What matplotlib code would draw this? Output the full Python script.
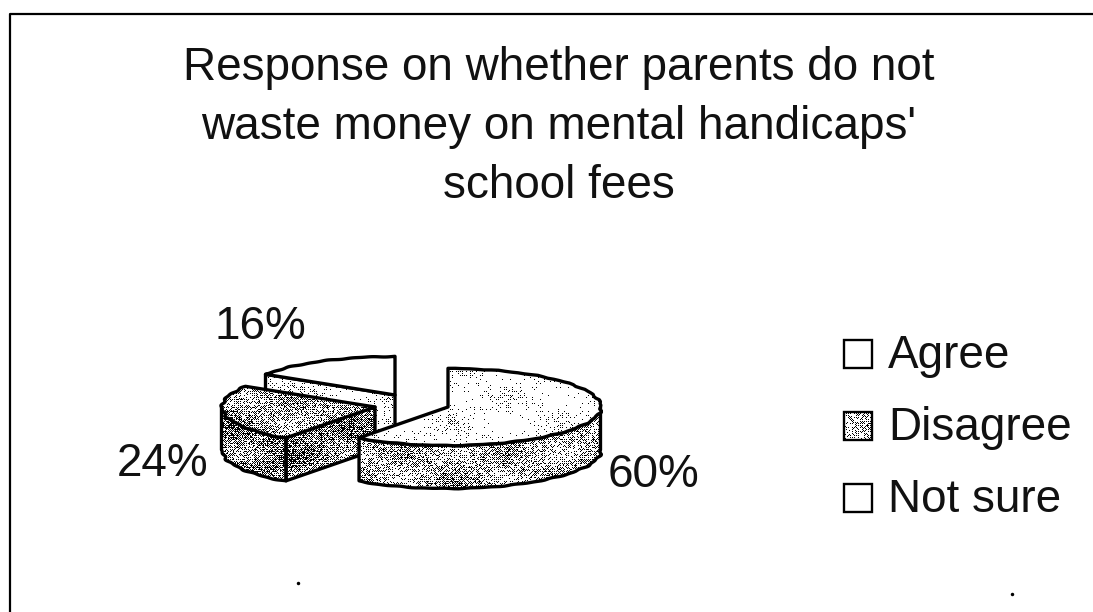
import numpy as np
import matplotlib
matplotlib.use("Agg")
import matplotlib.pyplot as plt
from matplotlib.patches import Polygon

title_lines = ["Response on whether parents do not",
               "waste money on mental handicaps'",
               "school fees"]
categories = ["Agree", "Disagree", "Not sure"]
shares = [60, 24, 16]
pct_labels = ["60%", "24%", "16%"]

plt.rcParams['font.family'] = ['Liberation Sans', 'DejaVu Sans']

RX, RY, DEPTH = 153, 38.5, 43
centers = {"Agree": (448, 407), "Disagree": (375, 407), "Not sure": (395, 395)}
label_pos = {"Agree": (653, 475), "Disagree": (163, 464), "Not sure": (260, 327)}
top_grey = {"Agree": 0.86, "Disagree": 0.60, "Not sure": 1.0}
side_grey = {"Agree": 0.62, "Disagree": 0.52, "Not sure": 0.80}
legend_grey = {"Agree": 1.0, "Disagree": 0.68, "Not sure": 1.0}
legend_y = {"Agree": 340, "Disagree": 412, "Not sure": 484}

BAYER = np.array([[0, 8, 2, 10], [12, 4, 14, 6], [3, 11, 1, 9], [15, 7, 13, 5]]) / 16 + 1 / 32


def rim(cx, cy, a0, a1, n=80):
    # angles run clockwise from 12 o'clock, squashed for the tilted view
    a = np.linspace(a0, a1, n)
    wob = 1 + 0.006 * np.sin(a * 23) + 0.005 * np.sin(a * 41 + 1)
    return np.column_stack([cx + RX * wob * np.sin(a), cy - RY * wob * np.cos(a)])


def stipple(ax, poly, grey):
    # grainy dither of a slowly varying grey, clipped to the face
    if grey >= 1:
        poly.set_facecolor("white")
        ax.add_patch(poly)
        return
    x0, y0 = poly.get_xy().min(axis=0).astype(int) - 2
    x1, y1 = poly.get_xy().max(axis=0).astype(int) + 2
    yy, xx = np.mgrid[y0:y1, x0:x1]
    level = grey + 0.10 * np.sin(xx / 17.0) * np.cos(yy / 9.0)
    grain = np.sin(xx * 12.9898 + yy * 78.233) * 43758.5453
    grain = grain - np.floor(grain)
    thresh = 0.55 * BAYER[yy % 4, xx % 4] + 0.45 * grain
    img = (level > thresh).astype(float)
    poly.set_facecolor("none")
    ax.add_patch(poly)
    im = ax.imshow(img, cmap="gray", vmin=0, vmax=1, interpolation="nearest", aspect="auto",
                   extent=(x0, x1, y1, y0), zorder=poly.get_zorder() - 0.5)
    im.set_clip_path(poly)


def draw_slice(ax, name, a0, a1, z):
    cx, cy = centers[name]
    edge = dict(edgecolor="black", linewidth=2.4, closed=True, zorder=z + 0.6, joinstyle="round")
    outer = rim(cx, cy, a0, a1)
    apex = np.array([cx, cy], dtype=float)

    # cut face is only seen when the slice starts past 6 o'clock
    if a0 > np.pi:
        p = rim(cx, cy, a0, a0, 1)[0]
        cut = np.array([apex, p, p + [0, DEPTH], apex + [0, DEPTH]])
        stipple(ax, Polygon(cut, **edge), side_grey[name])

    # outer wall, only where the rim faces the viewer
    lo, hi = max(a0, np.pi / 2), min(a1, 3 * np.pi / 2)
    if hi > lo:
        front = rim(cx, cy, lo, hi)
        wall = np.vstack([front, (front + [0, DEPTH])[::-1]])
        stipple(ax, Polygon(wall, **edge), side_grey[name])

    top = np.vstack([apex, outer])
    edge["zorder"] = z + 1.6
    stipple(ax, Polygon(top, **edge), top_grey[name])


fig = plt.figure(figsize=(10.93, 6.12), dpi=100)
ax = fig.add_axes([0, 0, 1, 1])
ax.axis("off")

# chart frame runs off the page at the right and bottom
ax.plot([9.5, 9.5, 1093], [612, 13.5, 13.5], color="black", lw=1.6, zorder=1)

for line, base in zip(title_lines, (80, 139, 198)):
    ax.text(559, base, line, ha="center", va="baseline", fontsize=33, color="#111111")

angles = 2 * np.pi * np.cumsum([0] + shares) / sum(shares)
for z, name in zip((8, 5, 2), ("Agree", "Disagree", "Not sure")):
    i = categories.index(name)
    draw_slice(ax, name, angles[i], angles[i + 1], z)

for name, lab in zip(categories, pct_labels):
    ax.text(*label_pos[name], lab, ha="center", va="center", fontsize=33, color="#111111")

for name in categories:
    y = legend_y[name]
    box = Polygon([(844, y), (872, y), (872, y + 28), (844, y + 28)], closed=True,
                  edgecolor="black", linewidth=1.7, zorder=6)
    stipple(ax, box, legend_grey[name])
    ax.text(888, y + 28, name, ha="left", va="baseline", fontsize=33, color="#111111")

# stray specks near the bottom edge of the page
ax.plot([298, 1012], [583, 594], ls="none", marker="o", ms=2.5, color="black", mew=0)

ax.set_xlim(0, 1093)
ax.set_ylim(612, 0)
fig.savefig("out.png", dpi=100)
